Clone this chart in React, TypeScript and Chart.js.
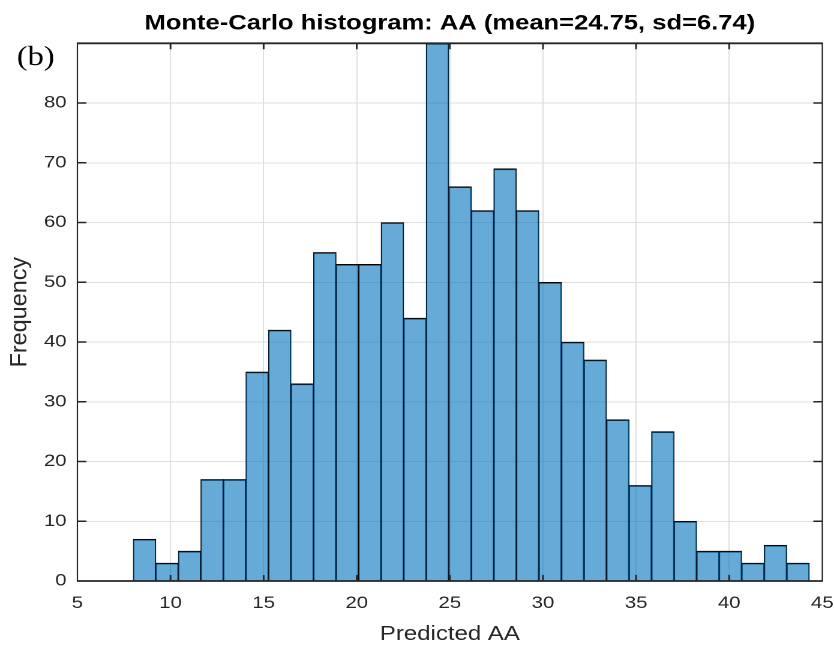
import { useEffect, useRef } from "react";
import { Chart, registerables } from "chart.js";

Chart.register(...registerables);

// Histogram of 1000 Monte-Carlo draws of the predicted AA value
const binStart = 8.0;
const binWidth = 1.21;
const counts = [
  7, 3, 5, 17, 17, 35, 42, 33, 55, 53, 53, 60, 44, 90, 66,
  62, 69, 62, 50, 40, 37, 27, 16, 25, 10, 5, 5, 3, 6, 3,
];
const xTicks = [5, 10, 15, 20, 25, 30, 35, 40, 45];
const yTicks = [0, 10, 20, 30, 40, 50, 60, 70, 80, 90];
const titleText = "Monte-Carlo histogram: AA (mean=24.75, sd=6.74)";
const xLabel = "Predicted AA";
const yLabel = "Frequency";
const panelTag = "(b)";

// The figure is rendered on a narrower canvas and widened horizontally.
const OUT_W = 834;
const OUT_H = 650;
const STRETCH = 1.2;
const CANVAS_W = OUT_W / STRETCH;

const SANS = "'Liberation Sans', Arial, Helvetica, sans-serif";
const INK = "#262626";

// Inward tick marks on all four sides, the axes box, the y-axis label and the panel tag.
const framePlugin = {
  id: "matlabFrame",
  afterDatasetsDraw(chart: any) {
    const { ctx, chartArea: a, scales } = chart;
    const xs = scales.x;
    const ys = scales.y;
    ctx.save();
    ctx.strokeStyle = INK;
    ctx.lineCap = "butt";

    ctx.lineWidth = 1.5;
    ctx.beginPath();
    for (const t of xs.ticks) {
      const px = xs.getPixelForValue(t.value);
      if (px <= a.left + 1 || px >= a.right - 1) continue;
      ctx.moveTo(px, a.bottom);
      ctx.lineTo(px, a.bottom - 6);
      ctx.moveTo(px, a.top);
      ctx.lineTo(px, a.top + 6);
    }
    for (const t of ys.ticks) {
      const py = ys.getPixelForValue(t.value);
      if (py <= a.top + 1 || py >= a.bottom - 1) continue;
      ctx.moveTo(a.left, py);
      ctx.lineTo(a.left + 7.5, py);
      ctx.moveTo(a.right, py);
      ctx.lineTo(a.right - 7.5, py);
    }
    ctx.stroke();

    // horizontal edges of the box
    ctx.lineWidth = 1.8;
    ctx.beginPath();
    ctx.moveTo(a.left - 0.5, a.top);
    ctx.lineTo(a.right + 0.5, a.top);
    ctx.moveTo(a.left - 0.5, a.bottom);
    ctx.lineTo(a.right + 0.5, a.bottom);
    ctx.stroke();

    // vertical edges of the box
    ctx.lineWidth = 1.1;
    ctx.beginPath();
    ctx.moveTo(a.left, a.top);
    ctx.lineTo(a.left, a.bottom);
    ctx.moveTo(a.right, a.top);
    ctx.lineTo(a.right, a.bottom);
    ctx.stroke();

    // y-axis label, rotated; widened along its length to offset the canvas stretch
    ctx.save();
    ctx.translate(16.8, (a.top + a.bottom) / 2);
    ctx.rotate(-Math.PI / 2);
    ctx.scale(STRETCH, 1);
    ctx.fillStyle = INK;
    ctx.font = `19.5px ${SANS}`;
    ctx.textAlign = "center";
    ctx.textBaseline = "middle";
    ctx.fillText(yLabel, 0, 0);
    ctx.restore();

    ctx.fillStyle = "#000";
    ctx.font = "27px 'Liberation Serif', 'Times New Roman', serif";
    ctx.textAlign = "left";
    ctx.textBaseline = "alphabetic";
    ctx.fillText(panelTag, 14, 65);
    ctx.restore();
  },
};

export default function App() {
  const canvasRef = useRef<HTMLCanvasElement | null>(null);

  useEffect(() => {
    const canvas = canvasRef.current;
    if (!canvas) return;

    const points = counts.map((c, i) => ({
      x: binStart + binWidth * (i + 0.5),
      y: c,
    }));

    const chart = new Chart(canvas, {
      type: "bar",
      data: {
        datasets: [
          {
            data: points as any,
            backgroundColor: "rgba(0,114,189,0.6)",
            borderColor: "#000",
            borderWidth: { top: 1, left: 0.5, right: 0.5, bottom: 0 } as any,
            borderSkipped: false,
            barPercentage: 1,
            categoryPercentage: 1,
            grouped: false,
          },
        ],
      },
      options: {
        animation: false,
        responsive: false,
        devicePixelRatio: 2,
        layout: { padding: { left: 0, right: 9.75, top: 0, bottom: 0 } },
        plugins: {
          legend: { display: false },
          tooltip: { enabled: false },
          title: {
            display: true,
            text: titleText,
            fullSize: false,
            color: "#000",
            font: { family: SANS, size: 21.3, weight: "bold", lineHeight: 1.2 },
            padding: { top: 10.6, bottom: 7.14 },
          },
        },
        scales: {
          x: {
            type: "linear",
            min: 5,
            max: 45,
            offset: false,
            afterBuildTicks: (s: any) => {
              s.ticks = xTicks.map((v) => ({ value: v }));
            },
            afterFit: (s: any) => {
              s.height = 69;
              s.paddingLeft = 0;
              s.paddingRight = 0;
            },
            grid: { color: "#dfdfdf", lineWidth: 1, drawTicks: false, offset: false },
            border: { display: false },
            ticks: {
              color: INK,
              font: { family: SANS, size: 17, lineHeight: 1.2 },
              padding: 12,
              maxRotation: 0,
              autoSkip: false,
            },
            title: {
              display: true,
              text: xLabel,
              color: INK,
              font: { family: SANS, size: 20, lineHeight: 1.2 },
              padding: { top: 0, bottom: 3.5 },
            },
          },
          y: {
            type: "linear",
            min: 0,
            max: 90,
            afterBuildTicks: (s: any) => {
              s.ticks = yTicks.map((v) => ({ value: v }));
            },
            afterFit: (s: any) => {
              s.width = 64.5;
              s.paddingTop = 0;
              s.paddingBottom = 0;
            },
            grid: { color: "#dfdfdf", lineWidth: 1, drawTicks: false },
            border: { display: false },
            ticks: {
              color: INK,
              font: { family: SANS, size: 17, lineHeight: 1.2 },
              padding: 9,
              callback: (v: any) => (v === 90 ? "" : String(v)),
            },
            title: { display: false },
          },
        },
      },
      plugins: [framePlugin],
    });

    return () => chart.destroy();
  }, []);

  return (
    <div
      style={{
        position: "absolute",
        left: 0,
        top: 0,
        width: OUT_W,
        height: OUT_H,
        overflow: "hidden",
        background: "#fff",
      }}
    >
      <canvas
        ref={canvasRef}
        width={CANVAS_W}
        height={OUT_H}
        style={{
          display: "block",
          width: CANVAS_W,
          height: OUT_H,
          transform: `scaleX(${STRETCH})`,
          transformOrigin: "0 0",
        }}
      />
    </div>
  );
}
